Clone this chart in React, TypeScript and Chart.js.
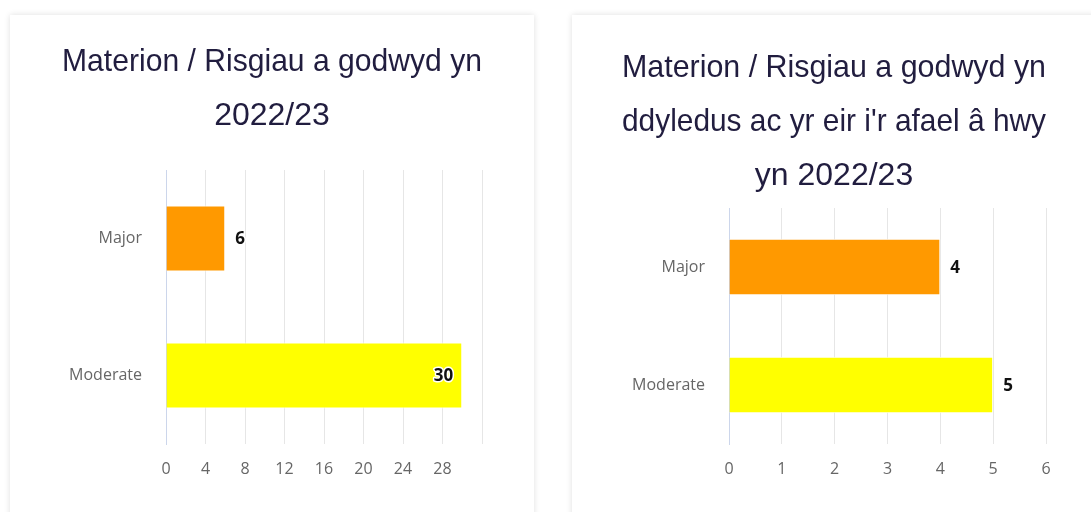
import React, { useEffect, useRef } from 'react';
import { Chart, registerables } from 'chart.js';

Chart.register(...registerables);

// ---- data ----
const categories = ['Major', 'Moderate'];
const raisedValues = [6, 30];
const overdueValues = [4, 5];
const barColors = ['#FF9900', '#FFFF00'];
const raisedTitle = ['Materion / Risgiau a godwyd yn', '2022/23'];
const overdueTitle = [
  'Materion / Risgiau a godwyd yn',
  "ddyledus ac yr eir i'r afael â hwy",
  'yn 2022/23',
];
const raisedAxis = { max: 32, step: 4, hideLast: true };
const overdueAxis = { max: 6, step: 1, hideLast: false };

const TICK_FONT = '"Open Sans", "DejaVu Sans", sans-serif';
const TITLE_FONT = '"Liberation Sans", Arial, sans-serif';

const valueLabels = {
  id: 'valueLabels',
  afterDatasetsDraw(chart: any) {
    const { ctx, chartArea } = chart;
    const meta = chart.getDatasetMeta(0);
    const data = chart.data.datasets[0].data as number[];
    ctx.save();
    ctx.font = 'bold 17px ' + TICK_FONT;
    ctx.textBaseline = 'middle';
    ctx.lineJoin = 'round';
    meta.data.forEach((bar: any, i: number) => {
      const text = String(data[i]);
      const w = ctx.measureText(text).width;
      let x: number;
      if (bar.x + 10 + w <= chartArea.right) {
        x = bar.x + 10;
        ctx.textAlign = 'left';
      } else {
        x = bar.x - 9;
        ctx.textAlign = 'right';
      }
      ctx.strokeStyle = '#ffffff';
      ctx.lineWidth = 3;
      ctx.strokeText(text, x, bar.y + 1);
      ctx.fillStyle = '#111111';
      ctx.fillText(text, x, bar.y + 1);
    });
    ctx.restore();
  },
};

type CardProps = {
  left: number;
  title: string[];
  values: number[];
  axis: { max: number; step: number; hideLast: boolean };
  plotLeft: number;
  padSide: number;
  padBottom: number;
  titlePadTop: number;
  titlePadBottom: number;
};

const CARD_W = 524;
const CARD_H = 497;

function BarCard(p: CardProps) {
  const ref = useRef<HTMLCanvasElement | null>(null);
  useEffect(() => {
    if (!ref.current) return;
    const chart = new Chart(ref.current, {
      type: 'bar',
      data: {
        labels: categories,
        datasets: [
          {
            data: p.values,
            backgroundColor: barColors,
            borderColor: '#ffffff',
            borderWidth: 1,
            categoryPercentage: 0.6,
            barPercentage: 0.8,
          },
        ],
      },
      options: {
        indexAxis: 'y',
        animation: false,
        responsive: false,
        maintainAspectRatio: false,
        layout: { padding: { left: p.padSide, right: p.padSide, top: 0, bottom: p.padBottom } },
        plugins: {
          legend: { display: false },
          tooltip: { enabled: false },
          title: {
            display: true,
            text: p.title,
            color: '#211d3f',
            font: { family: TITLE_FONT, size: 32, weight: 'normal', lineHeight: '54px' },
            padding: { top: p.titlePadTop, bottom: p.titlePadBottom },
          },
        },
        scales: {
          x: {
            min: 0,
            max: p.axis.max,
            border: { display: false },
            grid: {
              drawTicks: false,
              color: (c: any) => (c.tick && c.tick.value === 0 ? '#ccd6eb' : '#e6e6e6'),
              lineWidth: 1,
            },
            ticks: {
              stepSize: p.axis.step,
              padding: 16,
              color: '#666666',
              font: { family: TICK_FONT, size: 16 },
              callback: (v: any) => (p.axis.hideLast && v === p.axis.max ? '' : String(v)),
            },
            afterFit: (s: any) => {
              s.height = 40;
            },
          },
          y: {
            border: { display: true, color: '#ccd6eb', width: 1 },
            grid: { display: false, drawTicks: false },
            ticks: {
              padding: 24,
              color: '#666666',
              font: { family: TICK_FONT, size: 16 },
            },
            afterFit: (s: any) => {
              s.width = p.plotLeft - p.padSide;
            },
          },
        },
      },
      plugins: [valueLabels],
    } as any);
    return () => chart.destroy();
  }, []);
  return (
    <div
      style={{
        position: 'absolute',
        left: p.left,
        top: 15,
        width: CARD_W,
        height: CARD_H + 10,
        background: '#ffffff',
        boxShadow: '0 0 6px rgba(0,0,0,0.13)',
      }}
    >
      <canvas ref={ref} width={CARD_W} height={CARD_H} style={{ display: 'block' }} />
    </div>
  );
}

export default function App() {
  return (
    <div
      style={{
        position: 'absolute',
        left: 0,
        top: 0,
        width: 1091,
        height: 512,
        overflow: 'hidden',
        background: '#ffffff',
      }}
    >
      <BarCard
        left={10}
        title={raisedTitle}
        values={raisedValues}
        axis={raisedAxis}
        plotLeft={156}
        padSide={52}
        padBottom={28}
        titlePadTop={20}
        titlePadBottom={27}
      />
      <BarCard
        left={572}
        title={overdueTitle}
        values={overdueValues}
        axis={overdueAxis}
        plotLeft={157}
        padSide={50}
        padBottom={28}
        titlePadTop={26}
        titlePadBottom={5}
      />
    </div>
  );
}
